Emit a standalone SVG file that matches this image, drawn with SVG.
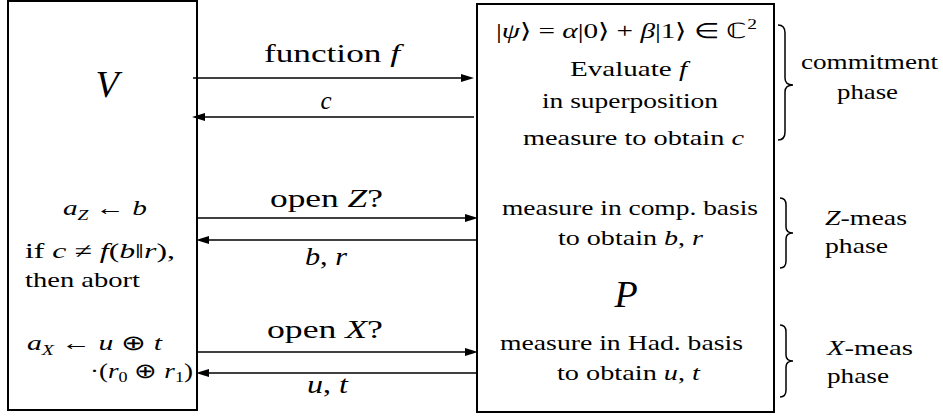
<svg xmlns="http://www.w3.org/2000/svg" width="943" height="416" viewBox="0 0 943 416">
<style>
.box{fill:#fff;stroke:#000;stroke-width:2}
.t{font-size:21px}
.l{font-size:25px}
.big{font-size:38px;font-style:italic}
.i{font-style:italic}
.arr{stroke:#000;stroke-width:1.7;fill:none;marker-end:url(#ah)}
.br{stroke:#000;stroke-width:1.5;fill:none}
</style>
<defs>
<marker id="ah" markerUnits="userSpaceOnUse" markerWidth="13" markerHeight="9" refX="6" refY="4.5" orient="auto">
<path d="M0,0.5 L13,4.5 L0,8.5 z" fill="#000"/>
</marker>
</defs>
<g font-family="Liberation Serif, Times New Roman, serif" fill="#000">
<g id="V">
<rect class="box" x="8" y="1" width="189" height="409"/>
<text class="big" x="107" y="97" text-anchor="middle">V</text>
<text class="t" x="63" y="215" textLength="84" lengthAdjust="spacingAndGlyphs"><tspan class="i">a</tspan><tspan class="i" font-size="14" dy="5">Z</tspan><tspan dy="-5"> ← </tspan><tspan class="i">b</tspan></text>
<text class="t" x="25" y="258" textLength="150" lengthAdjust="spacingAndGlyphs">if <tspan class="i">c</tspan> ≠ <tspan class="i">f</tspan>(<tspan class="i">b</tspan>‖<tspan class="i">r</tspan>),</text>
<text class="t" x="25" y="287" textLength="115" lengthAdjust="spacingAndGlyphs">then abort</text>
<text class="t" x="27" y="350" textLength="135" lengthAdjust="spacingAndGlyphs"><tspan class="i">a</tspan><tspan class="i" font-size="14" dy="5">X</tspan><tspan dy="-5"> ← </tspan><tspan class="i">u</tspan> ⊕ <tspan class="i">t</tspan></text>
<text class="t" x="90" y="378" textLength="103" lengthAdjust="spacingAndGlyphs">·(<tspan class="i">r</tspan><tspan font-size="14" dy="4">0</tspan><tspan dy="-4"> ⊕ </tspan><tspan class="i">r</tspan><tspan font-size="14" dy="4">1</tspan><tspan dy="-4">)</tspan></text>
</g>

<g id="P">
<rect class="box" x="477" y="4" width="297" height="408"/>
<text class="t" x="496" y="38" textLength="261" lengthAdjust="spacingAndGlyphs">|<tspan class="i">ψ</tspan>⟩ = <tspan class="i">α</tspan>|0⟩ + <tspan class="i">β</tspan>|1⟩ ∈ ℂ<tspan font-size="14" dy="-9">2</tspan></text>
<text class="t" x="570" y="76" textLength="117" lengthAdjust="spacingAndGlyphs">Evaluate <tspan class="i">f</tspan></text>
<text class="t" x="542" y="108" textLength="176" lengthAdjust="spacingAndGlyphs">in superposition</text>
<text class="t" x="523" y="145" textLength="221" lengthAdjust="spacingAndGlyphs">measure to obtain <tspan class="i">c</tspan></text>
<text class="t" x="502" y="215" textLength="256" lengthAdjust="spacingAndGlyphs">measure in comp.  basis</text>
<text class="t" x="558" y="245" textLength="145" lengthAdjust="spacingAndGlyphs">to obtain <tspan class="i">b</tspan>, <tspan class="i">r</tspan></text>
<text class="big" x="626" y="307" text-anchor="middle">P</text>
<text class="t" x="500" y="350" textLength="243" lengthAdjust="spacingAndGlyphs">measure in Had.  basis</text>
<text class="t" x="557" y="380" textLength="143" lengthAdjust="spacingAndGlyphs">to obtain <tspan class="i">u</tspan>, <tspan class="i">t</tspan></text>
</g>

<g id="connectors">
<line class="arr" x1="193" y1="78" x2="467" y2="78"/>
<line class="arr" x1="474" y1="117" x2="199" y2="117"/>
<line class="arr" x1="197" y1="218" x2="471" y2="218"/>
<line class="arr" x1="477" y1="240" x2="203" y2="240"/>
<line class="arr" x1="197" y1="352" x2="471" y2="352"/>
<line class="arr" x1="477" y1="373" x2="203" y2="373"/>
<text class="l" x="264" y="62" textLength="136" lengthAdjust="spacingAndGlyphs">function <tspan class="i">f</tspan></text>
<text class="l i" x="326" y="109" text-anchor="middle">c</text>
<text class="l" x="270" y="207" textLength="113" lengthAdjust="spacingAndGlyphs">open <tspan class="i">Z</tspan>?</text>
<text class="l" x="305" y="265" textLength="42" lengthAdjust="spacingAndGlyphs"><tspan class="i">b</tspan>, <tspan class="i">r</tspan></text>
<text class="l" x="267" y="338" textLength="116" lengthAdjust="spacingAndGlyphs">open <tspan class="i">X</tspan>?</text>
<text class="l" x="307" y="393" textLength="41" lengthAdjust="spacingAndGlyphs"><tspan class="i">u</tspan>, <tspan class="i">t</tspan></text>
</g>

<g id="phases">
<path class="br" d="M778,25 Q785,25 785,33 L785,78 Q785,85 793,85 Q785,85 785,92 L785,132 Q785,140 778,140"/>
<path class="br" d="M780,198 Q786,198 786,205 L786,227 Q786,233 793,233 Q786,233 786,239 L786,261 Q786,268 780,268"/>
<path class="br" d="M780,325 Q786,325 786,332 L786,355 Q786,361 793,361 Q786,361 786,367 L786,390 Q786,397 780,397"/>
<text class="t" x="801" y="69" textLength="137" lengthAdjust="spacingAndGlyphs">commitment</text>
<text class="t" x="837" y="99" textLength="61" lengthAdjust="spacingAndGlyphs">phase</text>
<text class="t" x="825" y="225" textLength="82" lengthAdjust="spacingAndGlyphs"><tspan class="i">Z</tspan>-meas</text>
<text class="t" x="825" y="253" textLength="63" lengthAdjust="spacingAndGlyphs">phase</text>
<text class="t" x="827" y="355" textLength="86" lengthAdjust="spacingAndGlyphs"><tspan class="i">X</tspan>-meas</text>
<text class="t" x="827" y="383" textLength="62" lengthAdjust="spacingAndGlyphs">phase</text>
</g>
</g>
</svg>
